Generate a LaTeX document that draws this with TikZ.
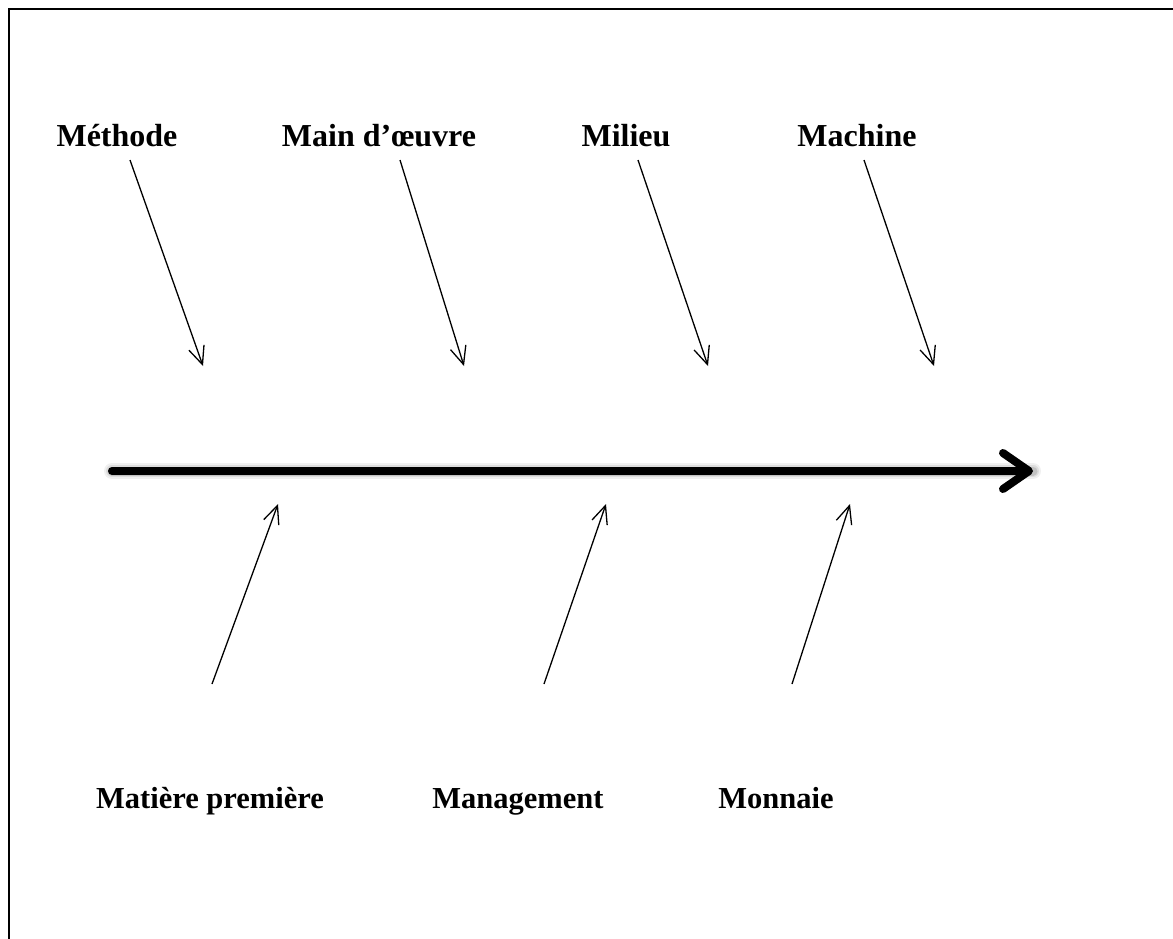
\documentclass[tikz,border=0pt]{standalone}
\usepackage{fontspec}
\setmainfont{Liberation Serif}
\usetikzlibrary{arrows.meta}
\begin{document}
\begin{tikzpicture}[x=1pt,y=-1pt,
  lbl/.style={font=\bfseries\fontsize{32}{36}\selectfont, anchor=base, inner sep=0pt},
  lblb/.style={font=\bfseries\fontsize{30.5}{34}\selectfont, anchor=base, inner sep=0pt},
  cause/.style={line width=1.3pt, -{Straight Barb[length=18pt,width=16pt,line width=1.3pt]}},
  spine/.style={line width=8pt, line cap=round, -{Straight Barb[length=26pt,width=36pt,line width=8pt, line cap=round, line join=round]}},
  frame/.style={line width=2pt}]
\useasboundingbox (0,0) rectangle (1173,938);
\fill[white] (0,0) rectangle (1173,938);
% frame
\coordinate (fTR) at (1180,9);
\coordinate (fTL) at (9,9);
\coordinate (fBL) at (9,945);
\draw[frame] (fTR) -- (fTL) -- (fBL);
% labels
\node[lbl] (methode) at (117,146) {Méthode};
\node[lbl] (main) at (379,146) {Main d’œuvre};
\node[lbl] (milieu) at (626,146) {Milieu};
\node[lbl] (machine) at (857,146) {Machine};
\node[lblb] (matiere) at (210,808) {Matière première};
\node[lblb] (mgmt) at (518,808) {Management};
\node[lblb] (monnaie) at (776,808) {Monnaie};
% cause arrow endpoints
\coordinate (a1s) at (130,160); \coordinate (a1e) at (203,366);
\coordinate (a2s) at (400,160); \coordinate (a2e) at (464,366);
\coordinate (a3s) at (638,160); \coordinate (a3e) at (708,366);
\coordinate (a4s) at (864,160); \coordinate (a4e) at (934,366);
\coordinate (b1s) at (212,684); \coordinate (b1e) at (278,504);
\coordinate (b2s) at (544,684); \coordinate (b2e) at (606,504);
\coordinate (b3s) at (792,684); \coordinate (b3e) at (850,504);
\draw[cause] (a1s) -- (a1e);
\draw[cause] (a2s) -- (a2e);
\draw[cause] (a3s) -- (a3e);
\draw[cause] (a4s) -- (a4e);
\draw[cause] (b1s) -- (b1e);
\draw[cause] (b2s) -- (b2e);
\draw[cause] (b3s) -- (b3e);
% spine
\coordinate (sS) at (112,471);
\coordinate (sE) at (1033,471);
\begin{scope}[shift={(2,5)}]
\foreach \w/\o in {16/0.06,12/0.08,9/0.12}{
  \draw[line width=\w pt, line cap=round, black, opacity=\o] (sS) -- (sE);
}
\end{scope}
\draw[spine] (sS) -- (sE);
\end{tikzpicture}
\end{document}
